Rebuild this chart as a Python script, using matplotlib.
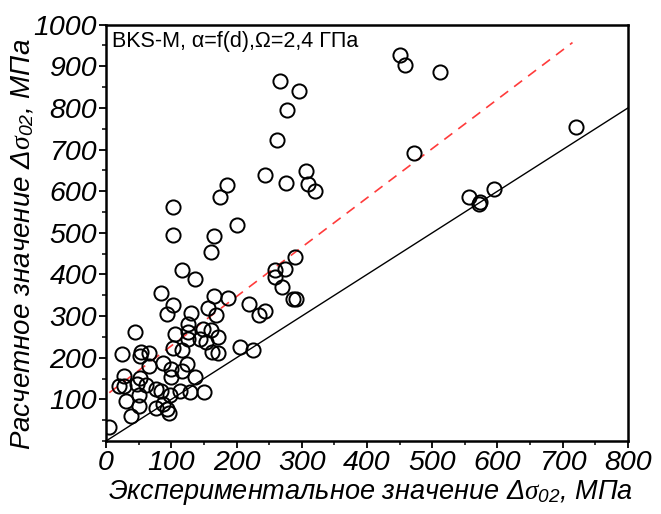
import matplotlib
matplotlib.use("Agg")
import matplotlib.pyplot as plt
from matplotlib.ticker import MultipleLocator

# experimental vs calculated yield-strength increment, MPa
exp_vals = [451, 459, 512, 266, 296, 278, 262, 472, 243, 185, 175, 276, 306, 310, 320,
            557, 573, 571, 594, 720, 103, 103, 200, 165, 161, 116, 136, 85, 103, 93,
            131, 165, 187, 157, 168, 219, 234, 243, 259, 275, 259, 270, 290, 287, 291,
            126, 44, 106, 125, 126, 144, 149, 161, 172, 153, 163, 171, 205, 226, 102,
            116, 25, 53, 52, 66, 87, 124, 99, 66, 117, 136, 27, 52, 100, 20,
            28, 47, 62, 77, 84, 51, 98, 113, 129, 150, 30, 51, 38, 76, 88,
            94, 97, 5]
calc_vals = [927, 904, 886, 864, 841, 794, 722, 692, 640, 616, 585, 620, 648, 618, 601,
             585, 574, 570, 606, 755, 563, 496, 519, 492, 455, 410, 388, 355, 326, 304,
             308, 349, 344, 319, 303, 329, 302, 313, 410, 412, 394, 369, 442, 340, 340,
             282, 262, 258, 263, 246, 246, 269, 266, 250, 238, 213, 212, 227, 219, 223,
             218, 210, 214, 204, 211, 188, 186, 174, 180, 167, 154, 156, 152, 154, 132,
             131, 138, 134, 126, 119, 111, 111, 120, 117, 117, 95, 83, 61, 79, 90,
             76, 68, 34]

# y = x reference and the regression (dashed) line
ident_x = [0, 800]
fit_x = [5, 715]
fit_y = [116, 957]

label_font = ["Liberation Sans", "DejaVu Sans"]
plt.rcParams["mathtext.fontset"] = "custom"
plt.rcParams["mathtext.it"] = "Liberation Serif:italic"
plt.rcParams["mathtext.rm"] = "Liberation Sans:italic"

fig = plt.figure(figsize=(6.61, 5.14), dpi=100)
ax = fig.add_axes([0.1604, 0.142, 0.7896, 0.810])

ax.plot(ident_x, ident_x, color="black", lw=1.0)
ax.plot(fit_x, fit_y, color="#ff3b3b", lw=1.2, ls=(0, (6, 4.5)))
ax.plot(exp_vals, calc_vals, "o", mfc="none", mec="black", ms=10.2, mew=1.4)

ax.set_xlim(0, 800)
ax.set_ylim(0, 1000)
ax.set_xticks(range(0, 801, 100))
ax.set_yticks(range(100, 1001, 100))
ax.xaxis.set_minor_locator(MultipleLocator(50))
ax.yaxis.set_minor_locator(MultipleLocator(50))
ax.tick_params(which="major", direction="out", length=5, width=1.3, pad=1.5)
ax.tick_params(which="minor", direction="out", length=3, width=1.1)
for lab in ax.get_xticklabels() + ax.get_yticklabels():
    lab.set_family(label_font)
    lab.set_style("italic")
    lab.set_fontsize(20.5)
for sp in ax.spines.values():
    sp.set_linewidth(1.8)

ax.set_xlabel(r"Экспериментальное значение $\Delta\sigma_{02}$, МПа",
              family=label_font, style="italic", fontsize=19.5)
ax.set_ylabel(r"Расчетное значение $\Delta\sigma_{02}$, МПа",
              family=label_font, style="italic", fontsize=20)
ax.xaxis.set_label_coords(0.506, -0.089)
ax.yaxis.set_label_coords(-0.134, 0.472)
ax.xaxis.label.set_va("top")

ax.text(0.012, 0.985, "BKS-M, α=f(d),Ω=2,4 ГПа", transform=ax.transAxes,
        ha="left", va="top", fontsize=15.5, family=label_font)

fig.savefig("out.png", dpi=100)
